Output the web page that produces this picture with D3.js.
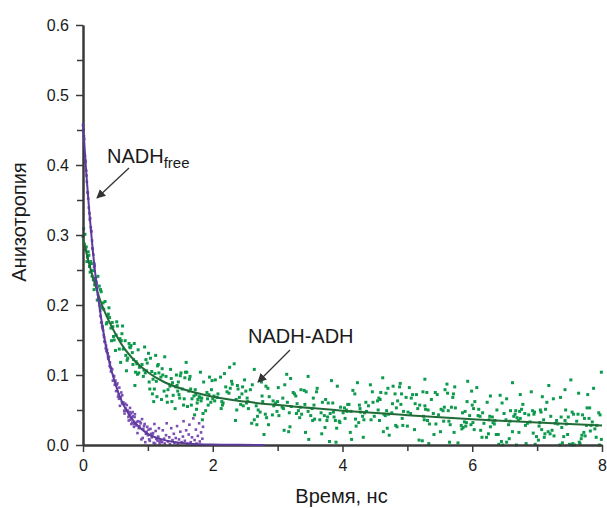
<!DOCTYPE html>
<html>
<head>
  <meta charset="utf-8">
  <title>Анизотропия NADH</title>
  <script src="https://d3js.org/d3.v7.min.js"></script>
  <style>
    body {
      margin: 0;
      background: #fff;
    }
    svg text {
      font-family: "Liberation Sans", Arial, sans-serif;
      fill: #1a1a1a;
    }
    .axis path, .axis line {
      stroke: #3a3a3a;
    }
  </style>
</head>
<body>
  <div id="chart"></div>
  <script>
    // tick values
    var xTicks = [0, 2, 4, 6, 8];
    var xMinorTicks = [1, 3, 5, 7];
    var yTicks = [0, 0.1, 0.2, 0.3, 0.4, 0.5, 0.6];
    var yMinorTicks = [0.05, 0.15, 0.25, 0.35, 0.45, 0.55];

    // NADH-ADH measured points [time, anisotropy]
    var adhPoints = [
      [0.00,.298],[0.01,.309],[0.02,.287],[0.03,.301],[0.04,.279],[0.05,.283],[0.06,.262],[0.07,.268],[0.08,.276],[0.09,.271],
      [0.10,.255],[0.11,.247],[0.12,.262],[0.13,.259],[0.14,.241],[0.15,.249],[0.16,.236],[0.17,.222],[0.18,.229],[0.19,.238],
      [0.20,.233],[0.24,.210],[0.23,.241],[0.29,.196],[0.27,.222],[0.25,.227],[0.22,.207],[0.28,.219],
      [0.37,.175],[0.36,.173],[0.38,.185],[0.32,.194],[0.39,.187],[0.31,.203],[0.30,.169],[0.34,.205],
      [0.41,.182],[0.48,.150],[0.46,.169],[0.43,.167],[0.44,.149],[0.45,.175],[0.47,.155],[0.40,.196],
      [0.50,.135],[0.53,.170],[0.59,.149],[0.52,.176],[0.56,.137],[0.57,.152],[0.51,.157],[0.58,.118],
      [0.61,.170],[0.68,.121],[0.69,.124],[0.67,.106],[0.66,.128],[0.65,.149],[0.62,.137],[0.60,.159],
      [0.72,.140],[0.71,.145],[0.77,.115],[0.73,.139],[0.76,.132],[0.78,.122],[0.74,.142],[0.79,.145],
      [0.84,.101],[0.81,.104],[0.80,.085],[0.85,.136],[0.82,.119],[0.83,.116],[0.87,.111],[0.86,.103],
      [0.98,.106],[0.97,.122],[0.96,.103],[0.93,.098],[0.99,.117],[0.95,.140],[0.94,.107],[0.91,.115],
      [1.06,.105],[1.01,.131],[1.07,.073],[1.04,.124],[1.03,.080],[1.09,.062],[1.02,.090],[1.08,.094],
      [1.14,.069],[1.11,.102],[1.15,.113],[1.16,.115],[1.13,.091],[1.10,.080],[1.17,.103],[1.12,.128],
      [1.26,.126],[1.22,.109],[1.29,.070],[1.25,.077],[1.20,.097],[1.28,.098],[1.21,.065],[1.23,.100],
      [1.30,.061],[1.39,.071],[1.38,.089],[1.31,.079],[1.34,.084],[1.35,.108],[1.37,.062],[1.36,.095],
      [1.47,.090],[1.46,.077],[1.43,.083],[1.49,.067],[1.45,.085],[1.48,.072],[1.42,.052],[1.44,.100],
      [1.59,.118],[1.58,.104],[1.53,.080],[1.57,.096],[1.50,.099],[1.56,.066],[1.51,.103],[1.55,.057],
      [1.67,.057],[1.68,.066],[1.60,.104],[1.63,.077],[1.65,.098],[1.61,.055],[1.64,.094],[1.66,.080],
      [1.73,.079],[1.79,.069],[1.72,.043],[1.76,.060],[1.75,.051],[1.71,.070],[1.74,.072],[1.77,.065],
      [1.86,.090],[1.80,.068],[1.82,.063],[1.89,.049],[1.81,.104],[1.83,.067],[1.84,.036],[1.85,.045],
      [1.91,.075],[1.98,.079],[1.97,.061],[1.99,.092],[1.95,.097],[1.93,.057],[1.92,.066],[1.94,.072],
      [2.07,.068],[2.02,.070],[2.08,.073],[2.04,.093],[2.00,.066],[2.03,.063],
      [2.13,.052],[2.12,.097],[2.14,.062],[2.15,.057],[2.16,.060],[2.18,.102],
      [2.27,.081],[2.22,.076],[2.20,.083],[2.26,.111],[2.29,.091],[2.25,.074],
      [2.39,.080],[2.38,.085],[2.36,.065],[2.37,.050],[2.30,.087],[2.35,.035],[2.33,.116],
      [2.43,.058],[2.45,.073],[2.46,.083],[2.47,.056],[2.41,.068],[2.49,.093],
      [2.55,.052],[2.51,.077],[2.54,.062],[2.52,.060],[2.58,.079],[2.53,.067],
      [2.69,.041],[2.60,.031],[2.61,.086],[2.68,.029],[2.67,.056],[2.64,.036],[2.64,.108],
      [2.75,.090],[2.76,.070],[2.70,.050],[2.77,.062],[2.79,.015],[2.73,.047],
      [2.82,.084],[2.81,.044],[2.85,.081],[2.86,.029],[2.87,.069],[2.83,.039],
      [2.93,.063],[2.96,.058],[2.99,.048],[2.94,.056],[2.97,.060],[2.92,.043],
      [3.08,.067],[3.09,.052],[3.07,.054],[3.01,.082],[3.02,.042],[3.00,.062],
      [3.10,.021],[3.15,.061],[3.18,.046],[3.11,.086],[3.19,.026],[3.17,.019],[3.14,.101],
      [3.21,.055],[3.20,.095],[3.24,.075],[3.29,.045],[3.28,.070],[3.26,.073],
      [3.35,.054],[3.32,.049],[3.37,.044],[3.34,.039],[3.36,.079],[3.30,.059],
      [3.42,.058],[3.48,.008],[3.41,.078],[3.44,.076],[3.43,.018],[3.47,.048],[3.47,.098],
      [3.57,.037],[3.53,.052],[3.54,.035],[3.56,.057],[3.51,.042],[3.55,.067],
      [3.60,.076],[3.67,.046],[3.69,.061],[3.61,.081],[3.65,.036],[3.68,.016],
      [3.77,.040],[3.78,.060],[3.76,.035],[3.72,.042],[3.73,.025],[3.74,.065],
      [3.85,.060],[3.80,.005],[3.87,.040],[3.81,.045],[3.89,.035],[3.86,.047],[3.83,.092],
      [3.95,.034],[3.92,.084],[3.96,.032],[3.97,.054],[3.91,.024],[3.90,.004],
      [4.07,.048],[4.03,.053],[4.06,.050],[4.01,.046],[4.04,.038],[4.08,.058],
      [4.10,.058],[4.12,.018],[4.16,.078],[4.19,.073],[4.13,.048],[4.14,.008],
      [4.21,.027],[4.26,.057],[4.28,.047],[4.27,.052],[4.20,.037],[4.25,.032],[4.23,.089],
      [4.31,.041],[4.36,.061],[4.34,.046],[4.37,.048],[4.32,.011],[4.33,.036],
      [4.43,.086],[4.47,.061],[4.44,.036],[4.40,.056],[4.49,.041],[4.46,.076],
      [4.57,.035],[4.58,.065],[4.54,.063],[4.59,.075],[4.56,.067],[4.55,.050],
      [4.68,.049],[4.64,.044],[4.69,.024],[4.67,.074],[4.63,.019],[4.66,.042],[4.62,.096],
      [4.78,.084],[4.72,.014],[4.70,.081],[4.77,.059],[4.71,.044],[4.76,.046],
      [4.81,.073],[4.82,.028],[4.84,.026],[4.89,.088],[4.83,.053],[4.85,.063],[4.88,.083],
      [4.93,.028],[4.94,.048],[4.92,.038],[4.91,.073],[4.98,.068],[4.90,.058],
      [5.06,.067],[5.00,.027],[5.01,.047],[5.05,.045],[5.08,.072],[5.03,.082],
      [5.14,.072],[5.16,.052],[5.11,.022],[5.18,.007],[5.19,.057],[5.12,.059],
      [5.28,.051],[5.24,.076],[5.27,.056],[5.23,.006],[5.26,.036],[5.25,.041],[5.27,.094],
      [5.34,.030],[5.31,.035],[5.33,.002],[5.32,.050],[5.30,.075],[5.37,.065],
      [5.44,.030],[5.41,.015],[5.43,.075],[5.40,.045],[5.48,.043],[5.46,.072],
      [5.51,.019],[5.55,.049],[5.56,.034],[5.58,.079],[5.57,.054],[5.52,.051],
      [5.64,.034],[5.66,.029],[5.63,.049],[5.62,.074],[5.65,.004],[5.68,.054],[5.61,.087],
      [5.71,.073],[5.70,.068],[5.73,.083],[5.74,.053],[5.72,.018],[5.78,.003],
      [5.89,.048],[5.88,.033],[5.85,.046],[5.83,.028],[5.86,.025],[5.84,.023],
      [5.92,.062],[5.91,.032],[5.99,.077],[5.96,.042],[5.90,.027],[5.98,.029],[5.93,.091],
      [6.03,.022],[6.01,.032],[6.00,.057],[6.09,.042],[6.02,.052],[6.04,.062],[6.07,.082],
      [6.15,.011],[6.12,.041],[6.13,.021],[6.16,.046],[6.10,.051],[6.18,.031],
      [6.26,.036],[6.25,.016],[6.27,.041],[6.22,.011],[6.28,.026],[6.23,.061],[6.28,.070],
      [6.34,.030],[6.31,.040],[6.35,.035],[6.32,.032],[6.37,.015],[6.38,.050],
      [6.41,.001],[6.47,.000],[6.49,.045],[6.45,.005],[6.40,.015],[6.46,.060],[6.43,.071],
      [6.56,.029],[6.57,.009],[6.59,.049],[6.58,.034],[6.53,.004],[6.52,.036],[6.53,.066],
      [6.69,.039],[6.64,.041],[6.68,.000],[6.67,.049],[6.66,.044],[6.62,.019],[6.62,.089],
      [6.74,.038],[6.71,.035],[6.73,.048],[6.76,.051],[6.72,.018],[6.78,.058],[6.74,.072],
      [6.87,.043],[6.81,.045],[6.82,.028],[6.83,.002],[6.89,.033],[6.85,.031],
      [6.96,.047],[6.95,.044],[6.99,.012],[6.94,.017],[6.93,.049],[6.97,.001],[6.91,.076],
      [7.04,.032],[7.03,.027],[7.06,.047],[7.02,.007],[7.05,.050],[7.07,.022],[7.08,.069],
      [7.12,.016],[7.13,.051],[7.11,.011],[7.10,.036],[7.17,.019],[7.15,.061],[7.18,.085],
      [7.20,.016],[7.26,.013],[7.23,.021],[7.25,.066],[7.21,.041],[7.28,.031],
      [7.35,.000],[7.39,.003],[7.38,.025],[7.37,.040],[7.32,.030],[7.30,.035],[7.36,.068],
      [7.47,.015],[7.43,.035],[7.44,.050],[7.48,.040],[7.45,.030],[7.41,.012],[7.43,.079],
      [7.50,.001],[7.53,.000],[7.55,.002],[7.56,.044],[7.58,.000],[7.54,.047],[7.52,.093],
      [7.65,.004],[7.63,.044],[7.61,.034],[7.69,.014],[7.68,.009],[7.66,.002],[7.64,.074],
      [7.76,.028],[7.74,.013],[7.70,.043],[7.72,.018],[7.73,.038],[7.77,.053],[7.78,.072],
      [7.85,.033],[7.89,.023],[7.80,.038],[7.81,.053],[7.82,.020],[7.83,.028],[7.87,.081],
      [7.99,.008],[7.96,.000],[7.97,.043],[7.91,.011],[7.92,.028],[7.95,.046],[7.99,.104]
    ];

    // free NADH measured points [time, anisotropy]
    var freePoints = [
      [0.00,.457],[0.01,.450],[0.015,.441],[0.02,.437],[0.03,.413],[0.035,.404],[0.04,.406],[0.05,.392],[0.055,.385],[0.06,.376],
      [0.07,.361],[0.075,.360],[0.08,.352],[0.09,.339],[0.10,.331],[0.105,.322],[0.11,.324],[0.12,.311],[0.125,.306],[0.13,.305],
      [0.14,.292],[0.145,.281],[0.15,.280],[0.16,.272],[0.17,.254],[0.175,.259],[0.18,.256],[0.19,.238],[0.20,.239],[0.205,.233],
      [0.21,.230],[0.22,.224],[0.23,.215],[0.235,.209],[0.24,.211],[0.25,.206],[0.26,.199],[0.265,.192],[0.27,.184],[0.28,.175],
      [0.29,.175],[0.295,.170],[0.30,.167],[0.31,.164],[0.32,.157],[0.325,.154],[0.33,.148],[0.34,.147],[0.35,.138],[0.355,.142],
      [0.36,.134],[0.37,.136],[0.38,.131],[0.385,.126],[0.39,.123],[0.40,.126],[0.41,.113],[0.415,.118],[0.42,.111],[0.43,.105],
      [0.44,.109],[0.45,.108],[0.46,.092],[0.47,.099],[0.48,.098],[0.49,.086],[0.50,.092],[0.51,.077],[0.52,.086],[0.53,.088],
      [0.54,.069],[0.55,.072],[0.555,.066],[0.56,.082],[0.57,.056],[0.58,.068],[0.59,.075],[0.60,.061],[0.605,.071],[0.61,.059],
      [0.62,.061],[0.63,.058],[0.635,.049],[0.64,.045],[0.65,.059],[0.66,.052],[0.67,.049],[0.675,.057],[0.68,.049],[0.69,.049],
      [0.70,.040],[0.705,.035],[0.71,.043],[0.72,.047],[0.725,.053],[0.73,.036],[0.74,.045],[0.745,.030],[0.75,.039],[0.76,.032],
      [0.765,.047],[0.77,.041],[0.78,.031],[0.785,.026],[0.79,.030],[0.795,.040],[0.80,.044],
      [0.81,.031],[0.82,.028],[0.83,.033],[0.84,.017],[0.85,.034],[0.86,.024],[0.87,.027],[0.88,.033],[0.89,.031],[0.90,.008],
      [0.91,.037],[0.92,.010],[0.93,.023],[0.94,.027],[0.95,.030],[0.96,.004],[0.97,.016],[0.98,.019],[0.99,.026],[1.00,.014],
      [1.01,.022],[1.02,.008],[1.03,.006],[1.04,.023],[1.05,.016],[1.06,.011],[1.07,.015],[1.08,.017],[1.09,.003],[1.10,.030],
      [1.11,.002],[1.12,.020],[1.13,.009],[1.14,.008],[1.15,.006],[1.16,.012],[1.17,.024],[1.18,.002],[1.19,.005],[1.20,.006],
      [1.22,.004],[1.23,.021],[1.25,.009],[1.26,.002],[1.28,.014],[1.29,.031],[1.31,.005],[1.33,.011],[1.34,.001],[1.36,.024],
      [1.38,.007],[1.40,.016],[1.41,.003],[1.43,.010],[1.45,.027],[1.46,.002],[1.48,.008],[1.50,.019],[1.52,.004],[1.54,.012],
      [1.55,.034],[1.57,.006],[1.59,.021],[1.61,.002],[1.63,.015],[1.64,.029],[1.66,.004],[1.68,.011],[1.70,.038],[1.72,.007],
      [1.74,.022],[1.75,.002],[1.77,.013],[1.79,.031],[1.80,.005],[1.82,.018],[1.84,.009],[1.85,.026]
    ];

    // fitted decay curves
    var adhFitX = [0, 0.1, 0.2, 0.3, 0.4, 0.5, 0.6, 0.8, 1.0, 1.25, 1.5, 2.0, 2.5, 3, 4, 5, 6, 7, 8];
    var adhFitY = [.295, .257, .225, .198, .177, .159, .143, .120, .104, .090, .081, .069, .062, .057, .049, .0426, .0369, .032, .0278];
    var freeFitX = [0, 0.05, 0.1, 0.15, 0.2, 0.25, 0.3, 0.4, 0.5, 0.6, 0.7, 0.8, 0.9, 1.0, 1.2, 1.4, 1.6, 1.8, 2.0, 2.4, 2.8];
    var freeFitY = [.460, .389, .330, .279, .236, .200, .169, .121, .087, .062, .045, .032, .023, .016, .0084, .0043, .0022, .0011, .0006, .0002, 0];

    var svg = d3.select("#chart")
      .append("svg")
      .attr("width", 607)
      .attr("height", 508);

    var margin = {top: 25, right: 5, bottom: 63, left: 83};
    var width = 519;
    var height = 420;

    var x = d3.scaleLinear().domain([0, 8]).range([0, width]);
    var y = d3.scaleLinear().domain([0, 0.6]).range([height, 0]);

    var g = svg.append("g")
      .attr("transform", "translate(" + margin.left + "," + margin.top + ")");

    // arrow head
    svg.append("defs").append("marker")
      .attr("id", "arrow")
      .attr("viewBox", "0 0 10 10")
      .attr("refX", 9)
      .attr("refY", 5)
      .attr("markerWidth", 9)
      .attr("markerHeight", 9)
      .attr("markerUnits", "userSpaceOnUse")
      .attr("orient", "auto")
      .append("path")
      .attr("d", "M0,0L10,5L0,10z")
      .attr("fill", "#333");

    // green points
    g.selectAll(".pt-adh")
      .data(adhPoints)
      .enter()
      .append("rect")
      .attr("class", "pt-adh")
      .attr("x", function(d) { return x(d[0]) - 1.5; })
      .attr("y", function(d) { return y(d[1]) - 1.5; })
      .attr("width", 3)
      .attr("height", 3)
      .attr("fill", "#0e9a4c");

    // purple points
    g.selectAll(".pt-free")
      .data(freePoints)
      .enter()
      .append("rect")
      .attr("class", "pt-free")
      .attr("x", function(d) { return x(d[0]) - 1.3; })
      .attr("y", function(d) { return y(d[1]) - 1.3; })
      .attr("width", 2.6)
      .attr("height", 2.6)
      .attr("fill", "#7b4eb3");

    // axes
    g.append("g")
      .attr("class", "axis")
      .call(d3.axisLeft(y).tickValues(yTicks).tickFormat(d3.format(".1f")).tickSize(7).tickSizeOuter(0).tickPadding(7));
    g.append("g")
      .attr("class", "axis")
      .call(d3.axisLeft(y).tickValues(yMinorTicks).tickFormat("").tickSize(6).tickSizeOuter(0));

    g.append("g")
      .attr("class", "axis")
      .attr("transform", "translate(0," + height + ")")
      .call(d3.axisBottom(x).tickValues(xTicks).tickFormat(d3.format("d")).tickSize(7).tickSizeOuter(0).tickPadding(8));
    g.append("g")
      .attr("class", "axis")
      .attr("transform", "translate(0," + height + ")")
      .call(d3.axisBottom(x).tickValues(xMinorTicks).tickFormat("").tickSize(6).tickSizeOuter(0));

    g.selectAll(".axis path").attr("stroke-width", 2);
    g.selectAll(".axis line").attr("stroke-width", 1.5);
    g.selectAll(".axis text").style("font-size", "16px").attr("fill", "#1a1a1a");

    // fit lines
    var line = d3.line()
      .x(function(d) { return x(d[0]); })
      .y(function(d) { return y(d[1]); })
      .curve(d3.curveMonotoneX);

    g.append("path")
      .datum(d3.zip(adhFitX, adhFitY))
      .attr("d", line)
      .attr("fill", "none")
      .attr("stroke", "#226b38")
      .attr("stroke-width", 2);

    g.append("path")
      .datum(d3.zip(freeFitX, freeFitY))
      .attr("d", line)
      .attr("fill", "none")
      .attr("stroke", "#5b3c9c")
      .attr("stroke-width", 2);

    // axis titles
    svg.append("text")
      .attr("x", margin.left + width / 2 - 1)
      .attr("y", 503)
      .attr("text-anchor", "middle")
      .style("font-size", "20px")
      .text("Время, нс");

    svg.append("text")
      .attr("transform", "translate(26,222) rotate(-90)")
      .attr("text-anchor", "middle")
      .style("font-size", "20px")
      .text("Анизотропия");

    // annotations
    var t1 = svg.append("text")
      .attr("x", 107)
      .attr("y", 163)
      .style("font-size", "20px");
    t1.append("tspan").text("NADH");
    t1.append("tspan").attr("dy", 5).style("font-size", "15px").text("free");

    svg.append("line")
      .attr("x1", 129).attr("y1", 168)
      .attr("x2", 97).attr("y2", 198)
      .attr("stroke", "#333")
      .attr("stroke-width", 1.3)
      .attr("marker-end", "url(#arrow)");

    svg.append("text")
      .attr("x", 248)
      .attr("y", 343)
      .style("font-size", "20px")
      .text("NADH-ADH");

    svg.append("line")
      .attr("x1", 290).attr("y1", 350)
      .attr("x2", 258).attr("y2", 382)
      .attr("stroke", "#333")
      .attr("stroke-width", 1.3)
      .attr("marker-end", "url(#arrow)");
  </script>
</body>
</html>
